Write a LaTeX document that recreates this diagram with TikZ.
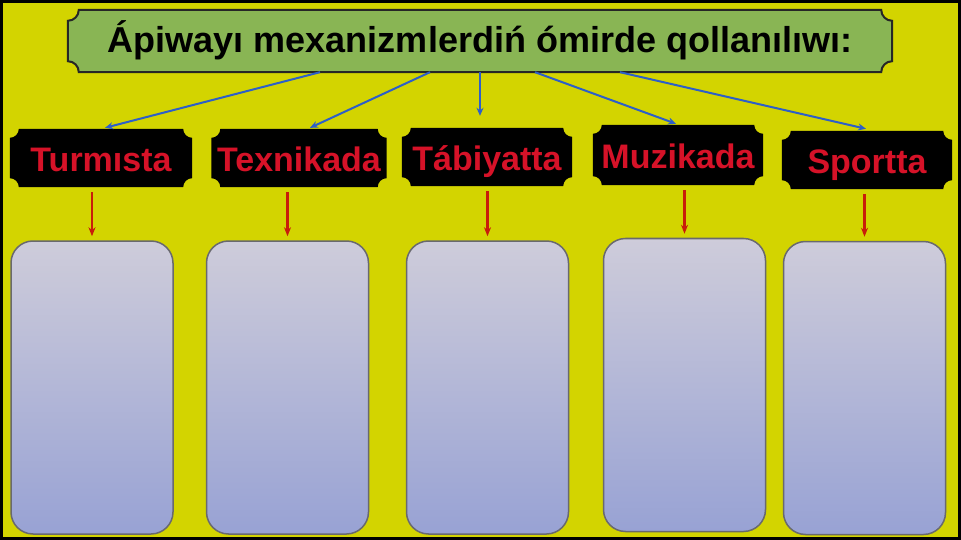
\documentclass[tikz,border=0pt]{standalone}
\usepackage{fontspec}
\setmainfont{Liberation Sans}
\usetikzlibrary{arrows.meta,backgrounds}
\definecolor{bgyellow}{RGB}{211,212,0}
\definecolor{titlegreen}{RGB}{137,181,84}
\definecolor{labelred}{RGB}{214,18,40}
\definecolor{arrowred}{RGB}{200,30,10}
\definecolor{arrowblue}{RGB}{45,95,200}
\definecolor{boxtop}{RGB}{206,204,218}
\definecolor{boxbottom}{RGB}{152,162,212}
\definecolor{boxedge}{RGB}{105,105,110}
\newcommand{\plaqueshape}[3]{\path[#1] ([xshift=#3]#2.north west) -- ([xshift=-#3]#2.north east) arc[start angle=180,end angle=270,radius=#3] -- ([yshift=#3]#2.south east) arc[start angle=90,end angle=180,radius=#3] -- ([xshift=#3]#2.south west) arc[start angle=0,end angle=90,radius=#3] -- ([yshift=-#3]#2.north west) arc[start angle=270,end angle=360,radius=#3] -- cycle;}
\begin{document}
\begin{tikzpicture}[x=1pt,y=1pt,
heading/.style={minimum width=824pt,minimum height=62pt,inner sep=0pt,text height=30pt,text depth=6pt,font=\fontsize{36}{40}\selectfont\bfseries},
tag/.style={minimum height=58pt,inner sep=0pt,text height=30pt,text depth=2pt,text=labelred,font=\fontsize{34}{38}\selectfont\bfseries},
blank/.style={rounded corners=22pt,draw=boxedge,line width=1.5pt,top color=boxtop,bottom color=boxbottom,minimum width=162pt,minimum height=293pt,inner sep=0pt},
bluearrow/.style={draw=arrowblue,line width=2pt,-{Stealth[length=8pt,width=7pt]}},
redarrow/.style={draw=arrowred,line width=2.2pt,-{Stealth[length=9pt,width=7pt]}}]
\useasboundingbox (0,0) rectangle (961,-540);
\node[heading] (title) at (480,-41) {Ápiwayı mexanizmlerdiń ómirde qollanılıwı:};
\node[tag,minimum width=182pt] (tur) at (101,-158) {Turmısta};
\node[tag,minimum width=175pt] (tex) at (299,-158) {Texnikada};
\node[tag,minimum width=170pt] (tab) at (487,-157) {Tábiyatta};
\node[tag,minimum width=170pt,minimum height=60pt] (muz) at (678,-155) {Muzikada};
\node[tag,minimum width=170pt] (spo) at (867,-160) {Sportta};
\node[blank] (b1) at (92,-387.5) {};
\node[blank] (b2) at (287.5,-387.5) {};
\node[blank] (b3) at (487.5,-387.5) {};
\node[blank] (b4) at (684.5,-385) {};
\node[blank] (b5) at (864.5,-388) {};
\begin{pgfonlayer}{background}
\fill[bgyellow] (0,0) rectangle (961,-540);
\plaqueshape{fill=titlegreen,draw=black!85,line width=2pt}{title}{11pt}
\plaqueshape{fill=black}{tur}{9pt}
\plaqueshape{fill=black}{tex}{9pt}
\plaqueshape{fill=black}{tab}{9pt}
\plaqueshape{fill=black}{muz}{9pt}
\plaqueshape{fill=black}{spo}{9pt}
\end{pgfonlayer}
\draw[bluearrow] ([xshift=-160pt]title.south) -- ([xshift=4pt,yshift=1pt]tur.north);
\draw[bluearrow] ([xshift=-50pt]title.south) -- ([xshift=11pt,yshift=1pt]tex.north);
\draw[bluearrow] (title.south) -- ([xshift=-7pt,yshift=12pt]tab.north);
\draw[bluearrow] ([xshift=55pt]title.south) -- ([xshift=-2pt,yshift=1pt]muz.north);
\draw[bluearrow] ([xshift=140pt]title.south) -- ([xshift=-1pt,yshift=2pt]spo.north);
\draw[redarrow] ([yshift=-5pt]tur.south -| b1.north) -- ([yshift=4pt]b1.north);
\draw[redarrow] ([yshift=-5pt]tex.south -| b2.north) -- ([yshift=4pt]b2.north);
\draw[redarrow] ([yshift=-5pt]tab.south -| b3.north) -- ([yshift=4pt]b3.north);
\draw[redarrow] ([yshift=-5pt]muz.south -| b4.north) -- ([yshift=4pt]b4.north);
\draw[redarrow] ([yshift=-5pt]spo.south -| b5.north) -- ([yshift=4pt]b5.north);
\draw[line width=3pt] (1.5,-1.5) rectangle (959.5,-538.5);
\end{tikzpicture}
\end{document}
